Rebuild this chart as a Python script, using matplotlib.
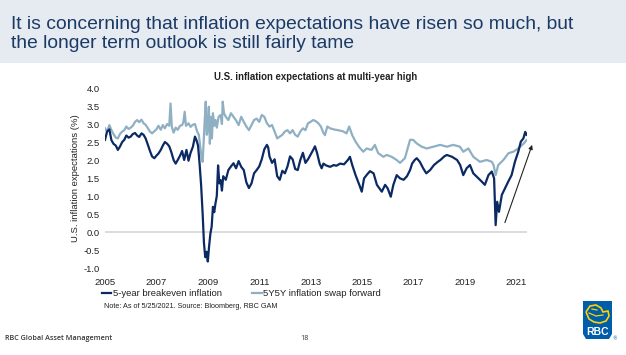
import matplotlib
matplotlib.use("Agg")
import matplotlib.pyplot as plt
from matplotlib.patches import Rectangle, PathPatch
from matplotlib.path import Path

# ---------------- data ----------------
be_years = [2005.00, 2005.08, 2005.17, 2005.25, 2005.33, 2005.42, 2005.50, 2005.58, 2005.67, 2005.75,
            2005.83, 2005.92, 2006.00, 2006.08, 2006.17, 2006.25, 2006.33, 2006.42, 2006.50, 2006.58,
            2006.67, 2006.75, 2006.83, 2006.92, 2007.00, 2007.08, 2007.17, 2007.25, 2007.33, 2007.42,
            2007.50, 2007.58, 2007.67, 2007.75, 2007.83, 2007.92, 2008.00, 2008.08, 2008.17, 2008.25,
            2008.33, 2008.42, 2008.50, 2008.56, 2008.62, 2008.68, 2008.74, 2008.80, 2008.85, 2008.90,
            2008.95, 2009.00, 2009.05, 2009.10, 2009.15, 2009.20, 2009.25, 2009.30, 2009.35, 2009.40,
            2009.45, 2009.50, 2009.55, 2009.60, 2009.70, 2009.80, 2009.90, 2010.00, 2010.10, 2010.20,
            2010.30, 2010.40, 2010.50, 2010.60, 2010.70, 2010.80, 2010.90, 2011.00, 2011.10, 2011.20,
            2011.30, 2011.35, 2011.40, 2011.50, 2011.60, 2011.70, 2011.80, 2011.90, 2012.00, 2012.10,
            2012.20, 2012.30, 2012.40, 2012.50, 2012.60, 2012.70, 2012.80, 2012.90, 2013.00, 2013.10,
            2013.17, 2013.25, 2013.35, 2013.43, 2013.50, 2013.60, 2013.76, 2013.90, 2014.00, 2014.15,
            2014.30, 2014.45, 2014.53, 2014.62, 2014.75, 2014.90, 2014.99, 2015.08, 2015.20, 2015.31,
            2015.45, 2015.58, 2015.77, 2015.90, 2016.00, 2016.12, 2016.22, 2016.35, 2016.48, 2016.62,
            2016.75, 2016.87, 2016.95, 2017.05, 2017.13, 2017.25, 2017.38, 2017.50, 2017.65, 2017.80,
            2017.95, 2018.05, 2018.20, 2018.30, 2018.50, 2018.70, 2018.82, 2018.94, 2019.07, 2019.20,
            2019.33, 2019.53, 2019.66, 2019.78, 2019.92, 2020.05, 2020.14, 2020.20, 2020.26, 2020.33,
            2020.44, 2020.56, 2020.69, 2020.82, 2020.95, 2021.08, 2021.18, 2021.28, 2021.35, 2021.40]
breakeven_5y = [2.56, 2.79, 2.85, 2.55, 2.45, 2.40, 2.28, 2.37, 2.50, 2.56,
                2.68, 2.62, 2.65, 2.72, 2.75, 2.68, 2.64, 2.74, 2.70, 2.60,
                2.42, 2.25, 2.10, 2.05, 2.12, 2.18, 2.28, 2.40, 2.50, 2.45,
                2.38, 2.22, 2.00, 1.90, 2.00, 2.12, 2.25, 2.00, 2.28, 1.98,
                2.20, 2.37, 2.65, 2.55, 2.40, 1.90, 1.30, 0.50, -0.30, -0.70,
                -0.55, -0.82, -0.40, -0.05, 0.15, 0.70, 0.55, 0.80, 1.00, 1.85,
                1.35, 1.44, 1.15, 1.55, 1.45, 1.72, 1.82, 1.91, 1.77, 1.97,
                1.81, 1.72, 1.38, 1.22, 1.35, 1.63, 1.72, 1.82, 2.02, 2.30,
                2.42, 2.35, 2.10, 1.92, 2.02, 1.55, 1.45, 1.70, 1.63, 1.82,
                2.10, 2.02, 1.75, 1.72, 2.00, 2.20, 1.92, 2.02, 2.15, 2.28,
                2.38, 2.20, 1.90, 1.77, 1.90, 1.85, 1.81, 1.86, 1.84, 1.90,
                1.88, 2.00, 2.09, 1.86, 1.58, 1.30, 1.12, 1.49, 1.60, 1.69,
                1.63, 1.31, 1.12, 1.31, 1.21, 0.98, 1.31, 1.58, 1.49, 1.45,
                1.55, 1.72, 1.90, 2.00, 2.05, 1.95, 1.77, 1.63, 1.72, 1.86,
                1.95, 2.00, 2.10, 2.14, 2.09, 2.00, 1.86, 1.58, 1.77, 1.86,
                1.63, 1.49, 1.40, 1.31, 1.58, 1.68, 1.49, 0.19, 0.84, 0.56,
                1.03, 1.21, 1.40, 1.58, 1.95, 2.23, 2.51, 2.60, 2.78, 2.70]

fw_years = [2005.00, 2005.08, 2005.17, 2005.25, 2005.33, 2005.42, 2005.50, 2005.58, 2005.67, 2005.75,
            2005.83, 2005.92, 2006.00, 2006.08, 2006.17, 2006.25, 2006.33, 2006.42, 2006.50, 2006.58,
            2006.67, 2006.75, 2006.83, 2006.92, 2007.00, 2007.08, 2007.17, 2007.25, 2007.33, 2007.42,
            2007.50, 2007.55, 2007.60, 2007.67, 2007.75, 2007.83, 2007.92, 2008.00, 2008.05, 2008.10,
            2008.15, 2008.25, 2008.33, 2008.42, 2008.50, 2008.58, 2008.65, 2008.72, 2008.76, 2008.80,
            2008.84, 2008.88, 2008.92, 2008.96, 2009.00, 2009.04, 2009.08, 2009.12, 2009.16, 2009.20,
            2009.25, 2009.30, 2009.35, 2009.42, 2009.50, 2009.55, 2009.58, 2009.63, 2009.70, 2009.80,
            2009.90, 2010.00, 2010.10, 2010.20, 2010.30, 2010.40, 2010.50, 2010.60, 2010.70, 2010.80,
            2010.90, 2011.00, 2011.10, 2011.20, 2011.30, 2011.40, 2011.50, 2011.60, 2011.70, 2011.80,
            2011.90, 2012.00, 2012.10, 2012.20, 2012.30, 2012.40, 2012.50, 2012.60, 2012.70, 2012.80,
            2012.90, 2013.00, 2013.10, 2013.20, 2013.30, 2013.40, 2013.50, 2013.56, 2013.65, 2013.76,
            2013.90, 2014.05, 2014.25, 2014.40, 2014.50, 2014.62, 2014.75, 2014.90, 2015.05, 2015.18,
            2015.37, 2015.50, 2015.63, 2015.83, 2015.96, 2016.15, 2016.35, 2016.48, 2016.67, 2016.87,
            2016.99, 2017.13, 2017.32, 2017.52, 2017.78, 2018.04, 2018.30, 2018.55, 2018.81, 2018.94,
            2019.14, 2019.33, 2019.59, 2019.85, 2020.05, 2020.12, 2020.20, 2020.30, 2020.50, 2020.70,
            2020.89, 2021.08, 2021.28, 2021.40]
swap_5y5y = [2.88, 2.79, 2.97, 2.83, 2.72, 2.62, 2.60, 2.72, 2.79, 2.83,
             2.93, 2.86, 2.90, 2.95, 3.06, 3.11, 3.05, 3.12, 3.02, 2.98,
             2.88, 2.79, 2.74, 2.80, 2.85, 2.95, 2.84, 2.97, 2.88, 3.00,
             2.95, 3.57, 2.92, 2.76, 2.90, 2.84, 2.95, 2.97, 3.05, 3.34,
             2.95, 3.02, 2.92, 2.98, 3.00, 2.80, 2.70, 2.30, 2.05, 1.95,
             2.55, 3.10, 3.62, 2.70, 2.85, 3.48, 2.45, 3.20, 2.60, 3.30,
             2.95, 3.11, 2.90, 3.20, 3.25, 3.00, 3.62, 3.30, 3.20, 3.11,
             3.30, 3.20, 3.10, 2.97, 3.20, 3.06, 2.93, 2.83, 2.97, 3.11,
             3.15, 3.06, 3.25, 3.20, 3.02, 2.93, 2.97, 2.79, 2.60, 2.65,
             2.70, 2.79, 2.83, 2.74, 2.83, 2.70, 2.65, 2.79, 2.88, 2.83,
             3.02, 3.06, 3.11, 3.08, 3.02, 2.93, 2.75, 2.69, 2.93, 2.88,
             2.85, 2.83, 2.80, 2.74, 2.93, 2.69, 2.51, 2.35, 2.23, 2.32,
             2.28, 2.42, 2.19, 2.09, 2.14, 2.09, 2.00, 1.92, 2.05, 2.56,
             2.56, 2.46, 2.37, 2.32, 2.37, 2.42, 2.37, 2.42, 2.37, 2.23,
             2.32, 2.09, 1.95, 2.00, 1.95, 1.86, 1.58, 1.86, 2.00, 2.19,
             2.23, 2.32, 2.45, 2.55]

year_ticks = [2005, 2007, 2009, 2011, 2013, 2015, 2017, 2019, 2021]
value_ticks = [-1.0, -0.5, 0.0, 0.5, 1.0, 1.5, 2.0, 2.5, 3.0, 3.5, 4.0]

series_names = ["5-year breakeven inflation", "5Y5Y inflation swap forward"]
page_title = "It is concerning that inflation expectations have risen so much, but\nthe longer term outlook is still fairly tame"
chart_title = "U.S. inflation expectations at multi-year high"
y_title = "U.S. inflation expectations (%)"
note_text = "Note: As of 5/25/2021. Source: Bloomberg, RBC GAM"
footer_text = "RBC Global Asset Management"
page_number = "18"

# ---------------- styling ----------------
W, H = 626, 355
DARK = "#0b2a63"
LIGHT = "#8fb0c3"
TITLE_C = "#1b3a66"
TXT = "#222222"
SANS = ["Liberation Sans", "DejaVu Sans"]

fig = plt.figure(figsize=(W / 100, H / 100), dpi=100)
fig.patch.set_facecolor("white")

# overlay axes in pixel units for page decorations
deco = fig.add_axes([0, 0, 1, 1], zorder=0)
deco.set_xlim(0, W)
deco.set_ylim(H, 0)
deco.axis("off")
deco.add_patch(Rectangle((0, 0), W, 63, facecolor="#e5ebf0", edgecolor="none"))
deco.text(11, 34, page_title, fontsize=13.9, color=TITLE_C, va="center", ha="left",
          family=SANS, linespacing=1.2)

# main chart axes
x0, x1 = 105, 527
ytop, ybot = 88, 268
ax = fig.add_axes([x0 / W, (H - ybot) / H, (x1 - x0) / W, (ybot - ytop) / H], zorder=2)
ax.patch.set_alpha(0)
ax.axhline(0, color="#d9d9d9", lw=1.3, zorder=1)
ax.plot(fw_years, swap_5y5y, color=LIGHT, lw=1.6, zorder=2, label=series_names[1])
ax.plot(be_years, breakeven_5y, color=DARK, lw=1.6, zorder=3, label=series_names[0])
ax.set_xlim(2005, 2021.42)
ax.set_ylim(-1, 4)
ax.set_xticks(year_ticks)
ax.set_xticklabels([str(y) for y in year_ticks])
ax.set_yticks(value_ticks)
ax.set_yticklabels([f"{v:.1f}" for v in value_ticks])
for s in ax.spines.values():
    s.set_visible(False)
ax.tick_params(axis="both", length=0, labelsize=6.8, colors=TXT)
ax.tick_params(axis="x", pad=7)
ax.tick_params(axis="y", pad=4)
for lab in ax.get_xticklabels() + ax.get_yticklabels():
    lab.set_family(SANS)
ax.set_ylabel(y_title, fontsize=6.8, color=TXT, family=SANS, labelpad=2)
ax.set_title(chart_title, fontsize=6.9, fontweight="bold", color=TXT, family=SANS, pad=6)

# arrow
ax.annotate("", xy=(2021.62, 2.42), xytext=(2020.56, 0.26), xycoords="data",
            annotation_clip=False,
            arrowprops=dict(arrowstyle="-|>", color=TXT, lw=0.8, mutation_scale=6,
                            shrinkA=0, shrinkB=0))

# legend
h = ax.get_legend_handles_labels()
handles = [h[0][1], h[0][0]]
labels = [h[1][1], h[1][0]]
leg = fig.legend(handles, labels, loc="upper left", bbox_to_anchor=(102 / W, 1 - 289 / H),
                 ncol=2, frameon=False, handlelength=1.0, handletextpad=0.15,
                 columnspacing=3.2, borderaxespad=0, borderpad=0,
                 prop={"family": SANS, "size": 6.8})
for t in leg.get_texts():
    t.set_color(TXT)

deco.text(104, 307, note_text, fontsize=5.2, color=TXT, family=SANS, va="center", ha="left")

# footer
deco.text(5, 338, footer_text, fontsize=5.2, color="#3a3a3a", family=["Open Sans", "DejaVu Sans"],
          fontweight="semibold", va="center", ha="left")
deco.text(300, 338, page_number, fontsize=5.2, color="#3a3a3a", family=["Open Sans", "DejaVu Sans"],
          va="center", ha="left")

# RBC logo (approximate)
lx0, lx1, ly0, ly1 = 583, 612, 301, 340
verts = [(lx0, ly0), (lx1, ly0), (lx1, ly1 - 6), (lx1 - 3, ly1 - 1), (lx0 + 3, ly1 - 1), (lx0, ly1 - 6), (lx0, ly0)]
codes = [Path.MOVETO] + [Path.LINETO] * 5 + [Path.CLOSEPOLY]
deco.add_patch(PathPatch(Path(verts, codes), facecolor="#005daa", edgecolor="none"))
lion = [(586, 312), (590, 306), (596, 305), (601, 308), (603, 312), (608, 311), (609, 316),
        (606, 321), (600, 323), (594, 322), (589, 319), (586, 312)]
deco.add_patch(PathPatch(Path(lion), facecolor="none", edgecolor="#ffd200", lw=1.2))
deco.plot([589, 596, 603], [313, 316, 315], color="#ffd200", lw=0.9)
deco.plot([592, 597], [309, 310], color="#ffd200", lw=0.9)
deco.text(597.5, 332, "RBC", fontsize=7.5, fontweight="bold", color="white", family=SANS,
          ha="center", va="center")
deco.text(615, 339, "®", fontsize=3.5, color="#005daa", ha="center", va="center")

fig.savefig("out.png", dpi=100)
